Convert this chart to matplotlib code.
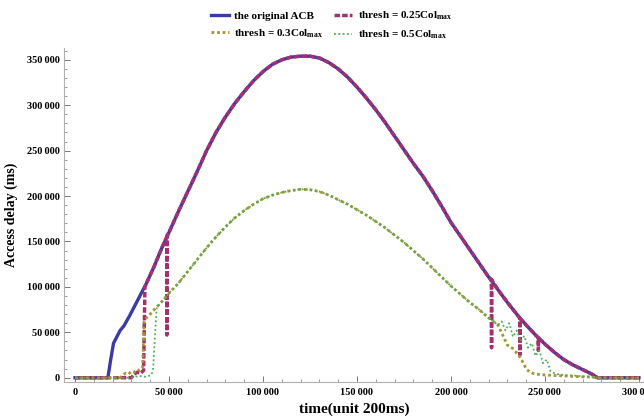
import matplotlib

matplotlib.use("Agg")
import matplotlib.pyplot as plt
from matplotlib.ticker import FuncFormatter, MultipleLocator

# ─── data (time in 200 ms units, delay in ms) ────────────────────────────────

# the original ACB
T_ACB = [0, 17500, 19000, 20500, 22000, 24000, 26000, 29000, 32000, 35000,
         38000, 42000, 46000, 50000, 55000, 60000, 65000, 70000, 75000, 80000,
         85000, 90000, 95000, 100000, 105000, 110000, 115000, 120000, 125000, 130000,
         135000, 140000, 145000, 150000, 155000, 160000, 165000, 170000, 175000, 180000,
         185000, 190000, 195000, 200000, 205000, 210000, 215000, 220000, 225000, 230000,
         235000, 240000, 245000, 250000, 255000, 260000, 265000, 270000, 275000, 278000,
         300000]
D_ACB = [0, 0, 20000, 38000, 44000, 52000, 57000, 68000, 80000, 92000,
         104000, 122000, 142000, 160000, 183000, 205000, 227000, 250000, 270000, 287000,
         302000, 315000, 327000, 337000, 345000, 350000, 353000, 354000, 354000, 352000,
         347000, 340000, 331000, 320000, 308000, 295000, 281000, 266000, 251000, 236000,
         222000, 206000, 189000, 171000, 156000, 141000, 126000, 111000, 97000, 83000,
         70000, 58000, 47000, 37000, 28000, 20000, 14000, 9000, 4000, 0,
         0]

# thresh = 0.25 Col_max: own start, then the ACB curve with a few drops
T_025_START = [0, 30000, 31500, 33000, 35000, 36500, 37200, 38000, 42000, 46000, 48800, 48900, 49000]
D_025_START = [0, 0, 4000, 6000, 5000, 8000, 100000, 104000, 122000, 142000, 155000, 47000, 157000]
DROPS_025 = [(221600, 108000, 33000), (236700, 65000, 25000), (246500, 44000, 30000)]

# lower curve shared by thresh = 0.3 and 0.5 Col_max
T_LOW = [45000, 50000, 55000, 60000, 65000, 70000, 75000, 80000, 85000, 90000,
         95000, 100000, 105000, 110000, 115000, 120000, 125000, 130000, 135000, 140000,
         145000, 150000, 155000, 160000, 165000, 170000, 175000, 180000, 185000, 190000,
         195000, 200000, 205000, 210000, 215000, 220000, 225000]
D_LOW = [81000, 93000, 104000, 117000, 130000, 143000, 155000, 166000, 176000, 184000,
         191000, 197000, 201000, 204000, 206000, 207500, 207000, 205000, 201000, 196000,
         191000, 185000, 179000, 172000, 165000, 157000, 149000, 140000, 131000, 121000,
         111000, 101000, 92000, 83000, 75000, 66000, 58000]

# thresh = 0.3 Col_max
T_03_START = [0, 24000, 25500, 27000, 28500, 30000, 31500, 33000, 34500, 36000, 36800, 38000, 40000, 43000]
D_03_START = [0, 0, 3000, 5000, 4000, 7000, 6000, 9000, 8000, 12000, 62000, 66000, 70000, 77000]
T_03_END = [228000, 230000, 233000, 236000, 238000, 240000, 242000, 245000, 250000, 255000,
            260000, 265000, 270000, 275000, 278000, 300000]
D_03_END = [45000, 36000, 32000, 25000, 18000, 10000, 6000, 4000, 3000, 2500,
            2000, 1500, 1000, 800, 0, 0]

# thresh = 0.5 Col_max
T_05_START = [0, 30000, 34000, 38000, 40500, 41500, 42500, 43500]
D_05_START = [0, 0, 2000, 1000, 3000, 8000, 45000, 78000]
T_05_END = [227000, 229000, 231000, 233000, 235000, 237000, 239000, 241000, 243000, 245000,
            247000, 249000, 251000, 253000, 256000, 260000, 265000, 270000, 275000, 278000, 300000]
D_05_END = [62000, 52000, 60000, 45000, 52000, 40000, 46000, 33000, 38000, 24000,
            30000, 16000, 20000, 7000, 4000, 3000, 2500, 1500, 800, 0, 0]

LABELS = ["the original ACB",
          "thresh = 0.25Col$_{\\mathrm{max}}$",
          "thresh = 0.3Col$_{\\mathrm{max}}$",
          "thresh = 0.5Col$_{\\mathrm{max}}$"]
COLORS = ["#3b3ba8", "#a3306f", "#a39434", "#4caf55"]


def _series_025():
    """ACB curve with the 0.25 start and the vertical drops spliced in."""
    pts = list(zip(T_025_START, D_025_START))
    pts += [(t, d) for t, d in zip(T_ACB, D_ACB) if t > T_025_START[-1]]
    for t, top, bottom in DROPS_025:
        pts += [(t - 1, top), (t, bottom), (t + 1, top)]
    pts.sort()
    return [p[0] for p in pts], [p[1] for p in pts]


def _fmt(v, _pos):
    return f"{v:,.0f}".replace(",", "\u2009")


plt.rcParams["font.family"] = ["Liberation Serif", "DejaVu Serif"]
plt.rcParams["font.weight"] = "bold"
plt.rcParams["mathtext.fontset"] = "custom"
plt.rcParams["mathtext.rm"] = "Liberation Serif:bold"
plt.rcParams["mathtext.bf"] = "Liberation Serif:bold"
plt.rcParams["mathtext.it"] = "Liberation Serif:bold:italic"

fig = plt.figure(figsize=(6.44, 4.17), dpi=100)
ax = fig.add_axes([64 / 644, 1 - 382 / 417, 580 / 644, (382 - 48) / 417])

t25, d25 = _series_025()
l_acb, = ax.plot(T_ACB, D_ACB, color=COLORS[0], lw=2.4, label=LABELS[0], zorder=2)
l_025, = ax.plot(t25, d25, color=COLORS[1], lw=2.5, dashes=(1.6, 0.6), label=LABELS[1], zorder=3)
l_03, = ax.plot(T_03_START + T_LOW + T_03_END, D_03_START + D_LOW + D_03_END,
                color=COLORS[2], lw=2.0, dashes=(1, 1), label=LABELS[2], zorder=4)
l_05, = ax.plot(T_05_START + T_LOW + T_05_END, D_05_START + D_LOW + D_05_END,
                color=COLORS[3], lw=1.3, dashes=(1, 1.4), label=LABELS[3], zorder=5)

ax.set_xlim(-5850, 302700)
ax.set_ylim(-4700, 363000)

for side in ("top", "right"):
    ax.spines[side].set_visible(False)
for side in ("left", "bottom"):
    ax.spines[side].set_color("#b0b0b0")
    ax.spines[side].set_linewidth(0.8)

ax.xaxis.set_major_locator(MultipleLocator(50000))
ax.xaxis.set_minor_locator(MultipleLocator(10000))
ax.yaxis.set_major_locator(MultipleLocator(50000))
ax.yaxis.set_minor_locator(MultipleLocator(10000))
ax.xaxis.set_major_formatter(FuncFormatter(_fmt))
ax.yaxis.set_major_formatter(FuncFormatter(_fmt))
ax.tick_params(which="major", direction="in", length=4, width=0.7, color="#777777",
               labelsize=7.5, pad=4)
ax.tick_params(which="minor", direction="in", length=2, width=0.6, color="#888888")
ax.tick_params(axis="y", pad=3)

ax.set_xlabel("time(unit 200ms)", fontsize=11, fontweight="bold", labelpad=4)
ax.set_ylabel("Access delay (ms)", fontsize=10, fontweight="bold", labelpad=6)

# legend fills column-wise: row 1 = ACB, 0.25; row 2 = 0.3, 0.5
fig.legend([l_acb, l_03, l_025, l_05], [LABELS[0], LABELS[2], LABELS[1], LABELS[3]],
           loc="upper center", bbox_to_anchor=(0.515, 1.0), ncol=2, frameon=False,
           fontsize=8, handlelength=1.6, handletextpad=0.5, columnspacing=1.0,
           labelspacing=0.55)

fig.savefig("out.png", dpi=100)
